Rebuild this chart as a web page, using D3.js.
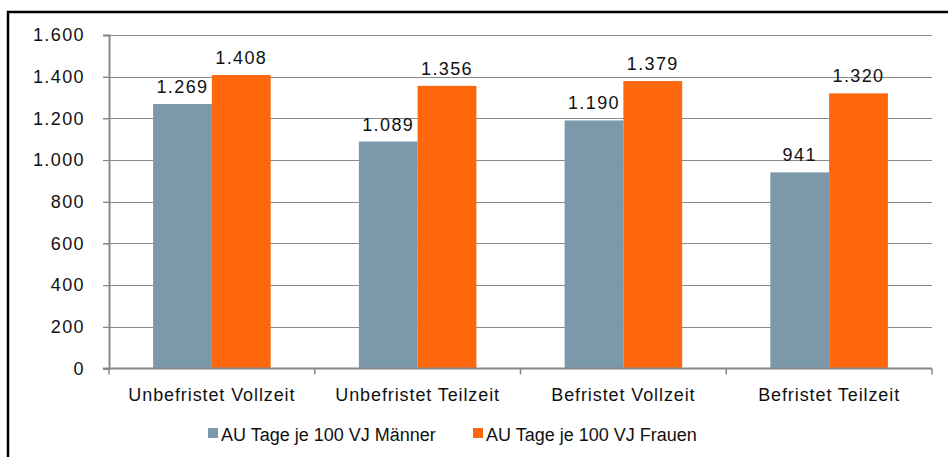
<!DOCTYPE html>
<html><head><meta charset="utf-8">
<script src="https://cdn.jsdelivr.net/npm/d3@7"></script>
<style>
html,body{margin:0;padding:0;background:#fff;}
svg{display:block;font-family:"Liberation Sans",Arial,sans-serif;}
</style></head>
<body><svg id="c" width="948" height="457"></svg>
<script>
const categories = ["Unbefristet Vollzeit","Unbefristet Teilzeit","Befristet Vollzeit","Befristet Teilzeit"];
const seriesNames = ["AU Tage je 100 VJ Männer","AU Tage je 100 VJ Frauen"];
const maenner = [1269,1089,1190,941];
const frauen = [1408,1356,1379,1320];
const yTicks = [0,200,400,600,800,1000,1200,1400,1600];
const colors = ["#7b99aa","#ff670d"];

const svg = d3.select("#c");
const fmt = v => d3.format(",")(v).replace(/,/g,".");

// frame
svg.append("path").attr("d","M8,457 V12 H948").attr("fill","none").attr("stroke","#000").attr("stroke-width",2.5);

const x0 = 109, x1 = 932, yTop = 35, yBot = 368.5;
const x = d3.scaleBand().domain(categories).range([x0,x1]);
const y = d3.scaleLinear().domain([0,1600]).range([yBot,yTop]);
const inner = d3.scaleBand().domain([0,1]).range([0,x.bandwidth()]).paddingInner(0).paddingOuter(0.75);

// gridlines
svg.append("g").selectAll("line").data(yTicks.filter(t=>t>0)).join("line")
  .attr("x1",x0-6).attr("x2",x1).attr("y1",d=>Math.round(y(d))+0.5).attr("y2",d=>Math.round(y(d))+0.5)
  .attr("stroke","#8a8a8a").attr("stroke-width",1.2);

// bars
const data = [maenner,frauen];
categories.forEach((c,i)=>{
  data.forEach((s,j)=>{
    svg.append("rect").attr("x",x(c)+inner(j)).attr("width",inner.bandwidth())
      .attr("y",y(s[i])).attr("height",yBot-y(s[i])).attr("fill",colors[j]);
    svg.append("text").attr("x",x(c)+inner(j)+inner.bandwidth()/2).attr("y",y(s[i])-11)
      .attr("text-anchor","middle").attr("font-size",18).attr("letter-spacing",1.4).attr("fill","#111").text(fmt(s[i]));
  });
});

// y axis
const yAxis = d3.axisLeft(y).tickValues(yTicks).tickSize(6).tickPadding(18).tickFormat(fmt);
const gy = svg.append("g").attr("transform",`translate(${x0},0)`).call(yAxis);
gy.select(".domain").attr("stroke","#888").attr("stroke-width",2);
gy.selectAll(".tick line").attr("stroke","#888").attr("stroke-width",1.2);
gy.selectAll(".tick text").attr("font-size",18).attr("letter-spacing",1.4).attr("fill","#111").attr("font-family","Liberation Sans,Arial,sans-serif");

// x axis
const gx = svg.append("g").attr("transform",`translate(0,${yBot})`);
gx.append("line").attr("x1",x0-6).attr("x2",x1).attr("y1",0).attr("y2",0).attr("stroke","#888").attr("stroke-width",2);
const bounds = categories.map(c=>x(c)).concat([x1]);
gx.selectAll(".tk").data(bounds).join("line").attr("x1",d=>d).attr("x2",d=>d).attr("y1",0).attr("y2",6)
  .attr("stroke","#888").attr("stroke-width",1.5);
gx.selectAll(".lbl").data(categories).join("text").attr("x",d=>x(d)+x.bandwidth()/2).attr("y",32)
  .attr("text-anchor","middle").attr("font-size",18).attr("letter-spacing",0.9).attr("fill","#111").text(d=>d);

// legend
const legX = [208, 473];
seriesNames.forEach((n,j)=>{
  svg.append("rect").attr("x",legX[j]).attr("y",428).attr("width",10).attr("height",10).attr("fill",colors[j]);
  svg.append("text").attr("x",legX[j]+13).attr("y",441).attr("font-size",18).attr("fill","#111").text(n);
});
</script></body></html>
